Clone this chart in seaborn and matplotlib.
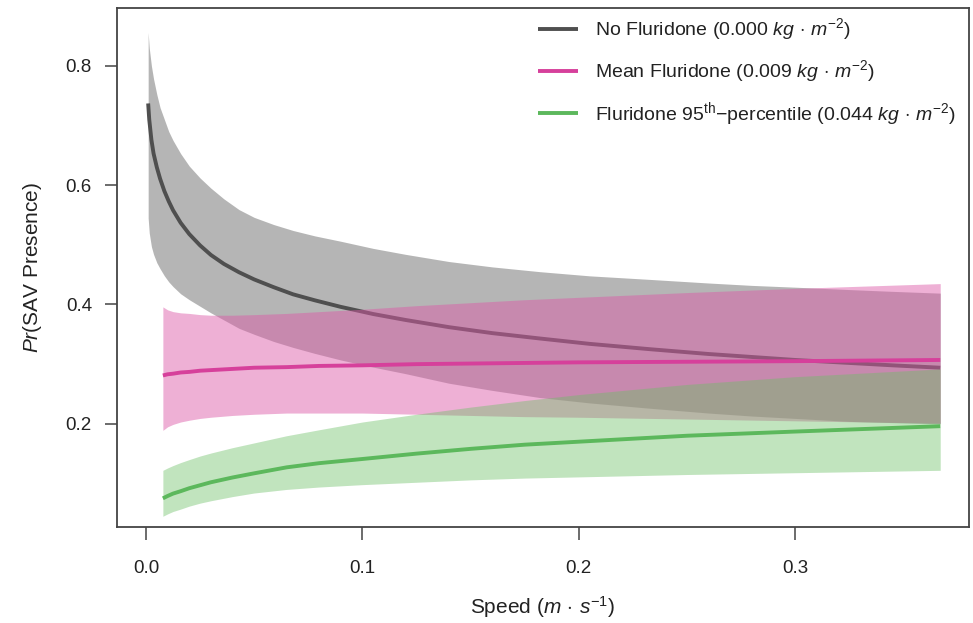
import numpy as np
import pandas as pd
import matplotlib
matplotlib.use("Agg")
import matplotlib.pyplot as plt
import seaborn as sns

# ---------------- data ----------------
speed_none = [0.001, 0.0015, 0.0025, 0.0035, 0.005, 0.0065, 0.0085, 0.0105, 0.0125, 0.016,
              0.02, 0.025, 0.03, 0.036, 0.043, 0.05, 0.059, 0.068, 0.078, 0.09, 0.105,
              0.12, 0.14, 0.16, 0.182, 0.205, 0.233, 0.26, 0.28, 0.3, 0.325, 0.345, 0.367]
p_none = [0.737, 0.710, 0.676, 0.653, 0.630, 0.611, 0.590, 0.573, 0.558, 0.537,
          0.518, 0.499, 0.483, 0.468, 0.454, 0.442, 0.429, 0.417, 0.407, 0.396, 0.384,
          0.374, 0.362, 0.352, 0.343, 0.334, 0.325, 0.317, 0.312, 0.307, 0.302, 0.298, 0.294]
hi_none = [0.856, 0.830, 0.800, 0.778, 0.752, 0.730, 0.710, 0.690, 0.675, 0.653,
           0.632, 0.612, 0.595, 0.577, 0.559, 0.546, 0.534, 0.524, 0.515, 0.506, 0.494,
           0.484, 0.472, 0.463, 0.455, 0.448, 0.442, 0.436, 0.432, 0.429, 0.425, 0.422, 0.419]
lo_none = [0.545, 0.520, 0.497, 0.484, 0.470, 0.460, 0.448, 0.438, 0.430, 0.418,
           0.408, 0.397, 0.386, 0.374, 0.360, 0.350, 0.338, 0.328, 0.318, 0.307, 0.295,
           0.284, 0.268, 0.256, 0.244, 0.235, 0.226, 0.218, 0.213, 0.209, 0.204, 0.202, 0.200]

speed_flu = [0.0078, 0.01, 0.0125, 0.016, 0.02, 0.025, 0.03, 0.04, 0.05, 0.065,
             0.08, 0.1, 0.125, 0.15, 0.175, 0.2, 0.25, 0.3, 0.367]
p_mean = [0.281, 0.283, 0.284, 0.286, 0.287, 0.289, 0.290, 0.292, 0.294, 0.295,
          0.297, 0.298, 0.300, 0.301, 0.302, 0.303, 0.304, 0.305, 0.307]
hi_mean = [0.396, 0.391, 0.388, 0.386, 0.385, 0.383, 0.382, 0.382, 0.383, 0.385,
           0.388, 0.392, 0.398, 0.403, 0.408, 0.412, 0.420, 0.427, 0.435]
lo_mean = [0.189, 0.195, 0.199, 0.203, 0.206, 0.209, 0.211, 0.214, 0.216, 0.218,
           0.218, 0.218, 0.216, 0.214, 0.212, 0.211, 0.208, 0.205, 0.201]
p_p95 = [0.075, 0.079, 0.083, 0.087, 0.092, 0.097, 0.102, 0.110, 0.117, 0.127,
         0.134, 0.141, 0.150, 0.158, 0.165, 0.170, 0.180, 0.187, 0.196]
hi_p95 = [0.122, 0.126, 0.130, 0.135, 0.140, 0.146, 0.151, 0.160, 0.168, 0.180,
          0.190, 0.203, 0.216, 0.228, 0.239, 0.249, 0.266, 0.279, 0.292]
lo_p95 = [0.045, 0.049, 0.053, 0.057, 0.062, 0.067, 0.071, 0.078, 0.084, 0.090,
          0.094, 0.098, 0.102, 0.106, 0.109, 0.111, 0.115, 0.118, 0.122]

labels = [r"No Fluridone (0.000 $kg\,\cdot\,m^{-2}$)",
          r"Mean Fluridone (0.009 $kg\,\cdot\,m^{-2}$)",
          "Fluridone 95$^{\\mathrm{th}}$\u2212percentile (0.044 $kg\\,\\cdot\\,m^{-2}$)"]
line_colors = ["#4f4f4f", "#d6409b", "#5cb85c"]
fill_colors = ["#6c6c6c", "#dc5aa8", "#6cbf66"]
fill_alphas = [0.50, 0.48, 0.42]

x_ticks = [0.0, 0.1, 0.2, 0.3]
y_ticks = [0.2, 0.4, 0.6, 0.8]

# ---------------- style ----------------
sns.set_theme(style="ticks")
plt.rcParams["font.family"] = ["Liberation Sans", "DejaVu Sans"]
plt.rcParams["mathtext.fontset"] = "custom"
plt.rcParams["mathtext.rm"] = "Liberation Sans"
plt.rcParams["mathtext.it"] = "Liberation Sans:italic"
plt.rcParams["mathtext.bf"] = "Liberation Sans:bold"

fig = plt.figure(figsize=(9.73, 6.23), dpi=100)
ax = fig.add_axes([117 / 973, 96 / 623, (969 - 117) / 973, (615 - 96) / 623])

series = [
    (speed_none, p_none, lo_none, hi_none),
    (speed_flu, p_mean, lo_mean, hi_mean),
    (speed_flu, p_p95, lo_p95, hi_p95),
]

for i, (xs, ps, lo, hi) in enumerate(series):
    ax.fill_between(xs, lo, hi, color=fill_colors[i], alpha=fill_alphas[i],
                    linewidth=0, zorder=1 + 2 * i)
    df = pd.DataFrame({"speed": xs, "p": ps})
    sns.lineplot(data=df, x="speed", y="p", ax=ax, color=line_colors[i],
                 linewidth=2.8, label=labels[i], zorder=2 + 2 * i,
                 solid_capstyle="butt")

ax.set_xlim(-0.0134, 0.3803)
ax.set_ylim(0.027, 0.897)
ax.set_xticks(x_ticks)
ax.set_xticklabels([f"{t:.1f}" for t in x_ticks])
ax.set_yticks(y_ticks)
ax.set_yticklabels([f"{t:.1f}" for t in y_ticks])
ax.tick_params(axis="both", direction="out", length=9, width=1.1,
               color="#444444", labelsize=13.5, labelcolor="#222222")
ax.tick_params(axis="x", pad=15)
ax.tick_params(axis="y", pad=9)

for s in ax.spines.values():
    s.set_visible(True)
    s.set_color("#444444")
    s.set_linewidth(1.3)

ax.set_xlabel(r"Speed ($m\,\cdot\,s^{-1}$)", fontsize=15, color="#222222", labelpad=12)
ax.set_ylabel(r"$Pr$(SAV Presence)", fontsize=15, color="#222222", labelpad=16)

leg = ax.legend(loc="upper right", bbox_to_anchor=(0.998, 1.006), frameon=False,
                fontsize=14, handlelength=2.05, handletextpad=0.85,
                labelspacing=0.82, borderaxespad=0.2)
for t in leg.get_texts():
    t.set_color("#222222")

fig.savefig("out.png", dpi=100)
